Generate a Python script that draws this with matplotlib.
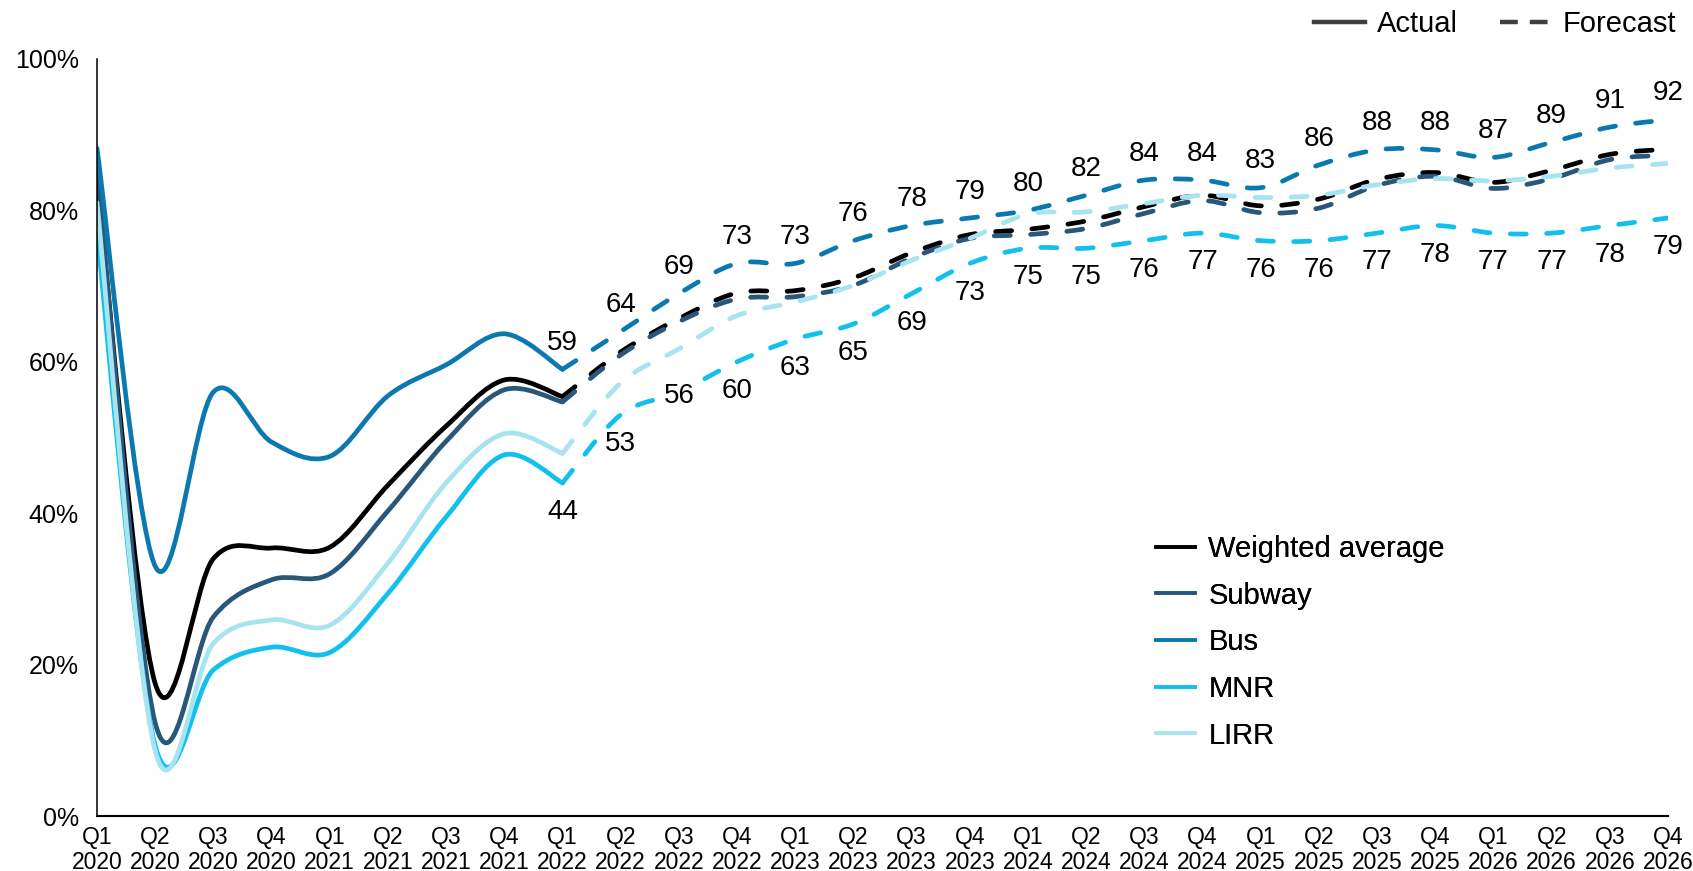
import matplotlib.pyplot as plt
import numpy as np
from matplotlib.path import Path
from matplotlib.patches import PathPatch
from matplotlib.lines import Line2D

plt.rcParams['font.family'] = ['Liberation Sans', 'DejaVu Sans']

# quarters Q1 2020 .. Q4 2026
quarter_labels = ['Q%d\n%d' % (q, y) for y in range(2020, 2027) for q in range(1, 5)]
x_actual = list(range(0, 9))      # Q1 2020 - Q1 2022
x_forecast = list(range(8, 28))   # Q1 2022 - Q4 2026

# ridership as % of pre-pandemic
weighted_actual = [84, 17.5, 34, 35.4, 35.5, 43.7, 51.5, 57.6, 55.4]
weighted_forecast = [55.4, 61.3, 65.7, 69.1, 69.4, 71.1, 74.4, 76.8, 77.5, 78.6,
                     80.5, 82.0, 80.6, 81.5, 84.1, 85.0, 83.7, 85.3, 87.4, 88.1]

subway_actual = [85.5, 12.3, 26.3, 31.2, 32, 40.3, 49.5, 56.3, 54.7]
subway_forecast = [54.7, 60.9, 65.3, 68.3, 68.6, 70.1, 73.7, 76.3, 76.8, 77.6,
                   79.6, 81.3, 79.7, 80.3, 83.3, 84.5, 82.9, 84.2, 86.7, 87.3]

bus_actual = [88.2, 33, 56, 49.4, 47.5, 55.5, 59.6, 63.7, 59]
bus_forecast = [59, 64, 69, 73, 73, 76, 78, 79, 80, 82,
                84, 84, 83, 86, 88, 88, 87, 89, 91, 92]

mnr_actual = [77, 9.3, 19.3, 22.3, 21.6, 29.4, 39.5, 47.7, 44]
mnr_forecast = [44, 53, 56, 60, 63, 65, 69, 73, 75, 75,
                76, 77, 76, 76, 77, 78, 77, 77, 78, 79]

lirr_actual = [81, 8.6, 22.8, 25.9, 25.2, 33.4, 44, 50.5, 47.9]
lirr_forecast = [47.9, 57.2, 61.7, 66.1, 67.9, 70.1, 73.4, 76.3, 79.5, 79.8,
                 80.9, 82.0, 81.7, 82.0, 83.4, 84.2, 83.9, 84.5, 85.6, 86.2]

series = [
    ('Weighted average', '#000000', weighted_actual, weighted_forecast),
    ('Subway', '#285779', subway_actual, subway_forecast),
    ('Bus', '#0B79B0', bus_actual, bus_forecast),
    ('MNR', '#12C0EE', mnr_actual, mnr_forecast),
    ('LIRR', '#A8E4F0', lirr_actual, lirr_forecast),
]


def smooth_path(x, y):
    # bezier curve through every point, tangents from the neighbours
    pts = np.column_stack([np.asarray(x, float), np.asarray(y, float)])
    ext = np.vstack([pts[0], pts, pts[-1]])
    verts = [pts[0]]
    codes = [Path.MOVETO]
    for i in range(len(pts) - 1):
        p0, p1, p2, p3 = ext[i], ext[i + 1], ext[i + 2], ext[i + 3]
        verts += [p1 + (p2 - p0) / 6, p2 - (p3 - p1) / 6, p2]
        codes += [Path.CURVE4] * 3
    return Path(verts, codes)


fig = plt.figure(figsize=(16.93, 8.71), dpi=100)
ax = fig.add_axes([97 / 1693, 1 - 816 / 871, 1571 / 1693, 757 / 871])

LW = 3.4
dash = (0, (3.4, 4.3))
for name, color, actual, forecast in series:
    ax.add_patch(PathPatch(smooth_path(x_actual, actual), fill=False,
                           edgecolor=color, lw=LW, capstyle='round', joinstyle='round'))
    ax.add_patch(PathPatch(smooth_path(x_forecast, forecast), fill=False,
                           edgecolor=color, lw=LW, linestyle=dash, capstyle='round',
                           joinstyle='round'))

# value labels: bus above the line, MNR below
for i, v in zip(x_forecast, bus_forecast):
    ax.annotate('%d' % v, (i, v), xytext=(0, 19), textcoords='offset points',
                ha='center', va='center', fontsize=20)
for i, v in zip(x_forecast, mnr_forecast):
    if i == 10:
        ax.annotate('%d' % v, (i, v), xytext=(0, -3), textcoords='offset points',
                    ha='center', va='center', fontsize=20,
                    bbox=dict(fc='white', ec='none', pad=1))
    else:
        ax.annotate('%d' % v, (i, v), xytext=(0, -21), textcoords='offset points',
                    ha='center', va='center', fontsize=20)

ax.set_xlim(0, 27)
ax.set_ylim(0, 100)
ax.set_xticks(range(28))
ax.set_xticklabels(quarter_labels, fontsize=16.5, linespacing=1.12)
ax.set_yticks(range(0, 101, 20))
ax.set_yticklabels(['%d%%' % t for t in range(0, 101, 20)], fontsize=18)
ax.tick_params(axis='both', length=0)
ax.tick_params(axis='y', pad=13)
ax.tick_params(axis='x', pad=7)
for s in ['top', 'right']:
    ax.spines[s].set_visible(False)
ax.spines['left'].set_linewidth(1.1)
ax.spines['bottom'].set_linewidth(1.5)

series_handles = [Line2D([], [], color=c, lw=2.6) for _, c, _, _ in series]
leg = ax.legend(series_handles, [s[0] for s in series], loc='upper left',
                bbox_to_anchor=(1156 / 1693, 1 - 535 / 871), bbox_transform=fig.transFigure,
                frameon=False, fontsize=21, handlelength=1.35, handletextpad=0.45,
                labelspacing=0.64, borderpad=0, borderaxespad=0)
ax.add_artist(leg)

style_handles = [Line2D([], [], color='#404040', lw=3.2),
                 Line2D([], [], color='#404040', lw=3.2, linestyle=(0, (4.0, 2.7)))]
fig.legend(style_handles, ['Actual', 'Forecast'], loc='upper right',
           bbox_to_anchor=(1676 / 1693, 1 - 10 / 871), ncol=2, frameon=False,
           fontsize=21, handlelength=1.75, handletextpad=0.4, columnspacing=1.45,
           borderpad=0, borderaxespad=0)

fig.savefig('out.png', dpi=100)
